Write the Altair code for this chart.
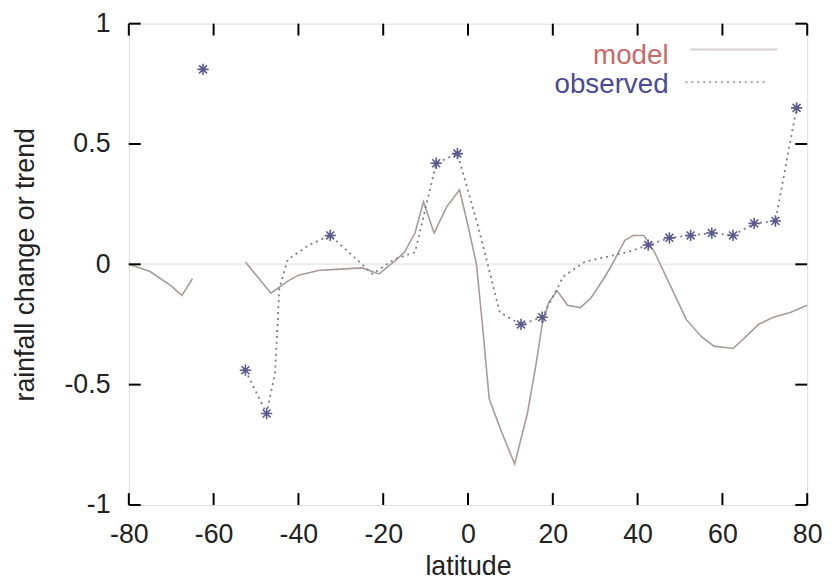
import altair as alt
import pandas as pd

# ---- data ----
model_a_x = [-80, -75, -70, -67.5, -65]
model_a_y = [0.0, -0.03, -0.09, -0.13, -0.06]

model_b_x = [-52.5, -46.5, -42.5, -40, -35, -30, -25, -21, -17.5, -15, -12.5, -10.5, -8, -5, -2,
             0, 2, 3.5, 5, 8, 11, 14, 16, 17.5, 19, 21, 23.5, 26.5, 29, 32, 34, 37, 39, 41.5,
             44, 47.5, 51.5, 55, 58, 62.5, 65, 68.5, 72, 76, 80]
model_b_y = [0.01, -0.12, -0.07, -0.045, -0.025, -0.02, -0.015, -0.04, 0.01, 0.05, 0.13, 0.26, 0.13, 0.24, 0.31,
             0.16, 0.0, -0.27, -0.56, -0.70, -0.83, -0.62, -0.42, -0.25, -0.16, -0.11, -0.17, -0.18, -0.14, -0.06, 0.0, 0.1, 0.12, 0.12,
             0.05, -0.08, -0.23, -0.30, -0.34, -0.35, -0.31, -0.25, -0.22, -0.20, -0.17]

obs_x = [-52.5, -47.5, -45.5, -44.5, -42.5, -37.5, -32.5, -27.5, -22.5, -17.5, -12.5, -7.5, -2.5, 2.5, 7.5,
         12.5, 17.5, 22.5, 27.5, 32.5, 37.5, 42.5, 47.5, 52.5, 57.5, 62.5, 67.5, 72.5, 77.5]
obs_y = [-0.44, -0.62, -0.45, -0.10, 0.02, 0.08, 0.12, 0.04, -0.04, 0.02, 0.05, 0.42, 0.46, 0.15, -0.20,
         -0.25, -0.22, -0.05, 0.01, 0.03, 0.05, 0.08, 0.11, 0.12, 0.13, 0.12, 0.17, 0.18, 0.65]

marker_x = [-62.5, -52.5, -47.5, -32.5, -7.5, -2.5, 12.5, 17.5, 42.5, 47.5, 52.5, 57.5, 62.5, 67.5, 72.5, 77.5]
marker_y = [0.81, -0.44, -0.62, 0.12, 0.42, 0.46, -0.25, -0.22, 0.08, 0.11, 0.12, 0.13, 0.12, 0.17, 0.18, 0.65]

x_ticks = [-80, -60, -40, -20, 0, 20, 40, 60, 80]
y_ticks = [-1, -0.5, 0, 0.5, 1]
legend_labels = ["model", "observed"]

# ---- tables ----
model_df = pd.DataFrame({
    "x": model_a_x + model_b_x,
    "y": model_a_y + model_b_y,
    "seg": ["a"] * len(model_a_x) + ["b"] * len(model_b_x),
})
obs_df = pd.DataFrame({"x": obs_x, "y": obs_y})
mark_df = pd.DataFrame({"x": marker_x, "y": marker_y})
xt_df = pd.DataFrame({"x": x_ticks})
yt_df = pd.DataFrame({"y": y_ticks})
zero_df = pd.DataFrame({"y": [0]})

FONT = "Liberation Sans"
FS = 27
W, H = 685, 486

xscale = alt.Scale(domain=[-80, 80], nice=False, zero=False)
yscale = alt.Scale(domain=[-1, 1], nice=False, zero=False)

xaxis = alt.Axis(values=x_ticks, tickSize=0, domain=False, grid=False, labelFontSize=FS,
                 labelFont=FONT, labelColor="#222", labelPadding=17, labelFlush=False,
                 labelOverlap=False, labelExpr="'' + datum.value",
                 titleFont=FONT, titleFontSize=FS, titleFontWeight="normal", titleColor="#222",
                 titleY=70, titleBaseline="alphabetic")
yaxis = alt.Axis(values=y_ticks, tickSize=0, domain=False, grid=False, labelFontSize=FS,
                 labelFont=FONT, labelColor="#222", labelPadding=19, labelFlush=False,
                 labelOverlap=False, labelExpr="'' + datum.value",
                 titleFont=FONT, titleFontSize=FS, titleFontWeight="normal", titleColor="#222",
                 titleX=-104, titleY=243, titleAngle=270, titleBaseline="middle", titleAlign="center")

X = alt.X("x:Q", scale=xscale, axis=xaxis, title="latitude")
Y = alt.Y("y:Q", scale=yscale, axis=yaxis, title="rainfall change or trend")

zero = alt.Chart(zero_df).mark_rule(color="#ececec", strokeWidth=2).encode(y=Y)

model = alt.Chart(model_df).mark_line(color="#a89a9a", strokeWidth=1.6).encode(
    x=X, y=Y, detail="seg:N")

obs = alt.Chart(obs_df).mark_line(color="#7a7a8a", strokeWidth=1.8, strokeDash=[2, 4]).encode(
    x=X, y=Y)

star = "M-1,0L1,0M0,-1L0,1M-0.7,-0.7L0.7,0.7M-0.7,0.7L0.7,-0.7"
markers = alt.Chart(mark_df).mark_point(shape=star, filled=False, color="#5a5a8e",
                                        strokeWidth=1.6, size=130, opacity=1).encode(x=X, y=Y)

tick_len = 12
bt = alt.Chart(xt_df).mark_rule(color="black", strokeWidth=2).encode(
    x=X, y=alt.value(H), y2=alt.value(H - tick_len))
tt = alt.Chart(xt_df).mark_rule(color="black", strokeWidth=2).encode(
    x=X, y=alt.value(0), y2=alt.value(tick_len))
lt = alt.Chart(yt_df).mark_rule(color="black", strokeWidth=2).encode(
    y=Y, x=alt.value(0), x2=alt.value(tick_len))
rt = alt.Chart(yt_df).mark_rule(color="black", strokeWidth=2).encode(
    y=Y, x=alt.value(W), x2=alt.value(W - tick_len))

leg_model_txt = alt.Chart(pd.DataFrame({"t": [legend_labels[0]]})).mark_text(
    font=FONT, fontSize=28, align="right", baseline="alphabetic", color="#c86a6a").encode(
    text="t:N", x=alt.value(545), y=alt.value(41))
leg_obs_txt = alt.Chart(pd.DataFrame({"t": [legend_labels[1]]})).mark_text(
    font=FONT, fontSize=28, align="right", baseline="alphabetic", color="#4a4a96").encode(
    text="t:N", x=alt.value(545), y=alt.value(70))
leg_model_line = alt.Chart(pd.DataFrame({"t": [legend_labels[0]]})).mark_rule(
    color="#d8d0d0", strokeWidth=2).encode(x=alt.value(567), x2=alt.value(655), y=alt.value(26))
leg_obs_line = alt.Chart(pd.DataFrame({"t": [legend_labels[1]]})).mark_rule(
    color="#9a9aa8", strokeWidth=1.8, strokeDash=[2, 4]).encode(
    x=alt.value(562), x2=alt.value(643), y=alt.value(59))

chart = alt.layer(
    zero, model, obs, markers, bt, tt, lt, rt,
    leg_model_txt, leg_obs_txt, leg_model_line, leg_obs_line
).properties(
    width=W, height=H,
    autosize=alt.AutoSizeParams(type="none"),
    padding={"left": 122, "top": 13, "right": 21, "bottom": 77},
).configure_view(stroke="black", strokeWidth=2).configure(background="white")

chart.save("out.html", embed_options={"renderer": "svg", "actions": False})
